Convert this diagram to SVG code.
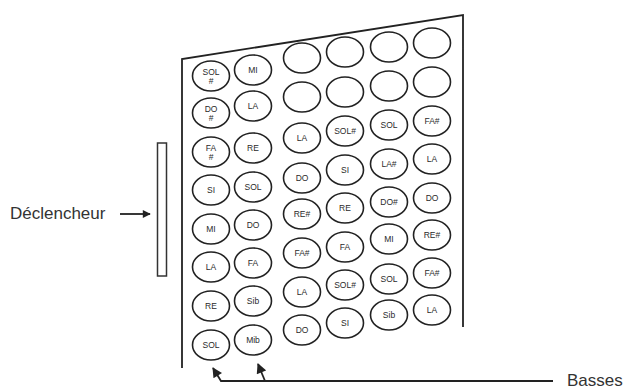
<svg xmlns="http://www.w3.org/2000/svg" width="624" height="389" viewBox="0 0 624 389">
<defs>
<style>
.k{fill:none;stroke:#222;stroke-width:1.6}
.t{font-family:"Liberation Sans",Arial,sans-serif;font-size:8.5px;fill:#2a2a2a;text-anchor:middle}
.lbl{font-family:"Liberation Sans",Arial,sans-serif;font-size:17px;fill:#333}
.ln{fill:none;stroke:#222;stroke-width:1.8}
</style>
<marker id="ah" viewBox="0 0 10 10" refX="9" refY="5" markerWidth="12" markerHeight="8" markerUnits="userSpaceOnUse" orient="auto">
<path d="M0,0 L10,5 L0,10 Z" fill="#222"/>
</marker>
<marker id="ah2" viewBox="0 0 10 10" refX="9" refY="5" markerWidth="13" markerHeight="10" markerUnits="userSpaceOnUse" orient="auto">
<path d="M0,0 L10,5 L0,10 Z" fill="#222"/>
</marker>
</defs>
<rect width="624" height="389" fill="#fff"/>
<g id="frame"><polyline class="ln" points="182,368 182,59 463,15 463,327"/></g>
<g id="declencheur-bar"><rect x="157.5" y="143" width="9" height="133" fill="none" stroke="#333" stroke-width="1.5"/></g>
<g id="declencheur-label"><text class="lbl" x="10" y="219">Déclencheur</text></g>
<g id="basses-label"><text class="lbl" x="567" y="386">Basses</text></g>
<g id="c1r1"><ellipse class="k" cx="211" cy="76" rx="18.5" ry="15"/><text class="t" x="211" y="75">SOL</text><text class="t" x="211" y="84">#</text></g>
<g id="c1r2"><ellipse class="k" cx="211" cy="113" rx="18.5" ry="15"/><text class="t" x="211" y="112">DO</text><text class="t" x="211" y="121">#</text></g>
<g id="c1r3"><ellipse class="k" cx="211" cy="152" rx="18.5" ry="15"/><text class="t" x="211" y="151">FA</text><text class="t" x="211" y="160">#</text></g>
<g id="c1r4"><ellipse class="k" cx="211" cy="190" rx="18.5" ry="15"/><text class="t" x="211" y="193">SI</text></g>
<g id="c1r5"><ellipse class="k" cx="211" cy="229" rx="18.5" ry="15"/><text class="t" x="211" y="232">MI</text></g>
<g id="c1r6"><ellipse class="k" cx="211" cy="267" rx="18.5" ry="15"/><text class="t" x="211" y="270">LA</text></g>
<g id="c1r7"><ellipse class="k" cx="211" cy="306" rx="18.5" ry="15"/><text class="t" x="211" y="309">RE</text></g>
<g id="c1r8"><ellipse class="k" cx="211" cy="345" rx="18.5" ry="15"/><text class="t" x="211" y="348">SOL</text></g>
<g id="c2r1"><ellipse class="k" cx="253" cy="70" rx="18.5" ry="15"/><text class="t" x="253" y="73">MI</text></g>
<g id="c2r2"><ellipse class="k" cx="253" cy="106" rx="18.5" ry="15"/><text class="t" x="253" y="109">LA</text></g>
<g id="c2r3"><ellipse class="k" cx="253" cy="148" rx="18.5" ry="15"/><text class="t" x="253" y="151">RE</text></g>
<g id="c2r4"><ellipse class="k" cx="253" cy="187" rx="18.5" ry="15"/><text class="t" x="253" y="190">SOL</text></g>
<g id="c2r5"><ellipse class="k" cx="253" cy="225" rx="18.5" ry="15"/><text class="t" x="253" y="228">DO</text></g>
<g id="c2r6"><ellipse class="k" cx="253" cy="263" rx="18.5" ry="15"/><text class="t" x="253" y="266">FA</text></g>
<g id="c2r7"><ellipse class="k" cx="253" cy="301" rx="18.5" ry="15"/><text class="t" x="253" y="304">Sib</text></g>
<g id="c2r8"><ellipse class="k" cx="253" cy="340" rx="18.5" ry="15"/><text class="t" x="253" y="343">Mib</text></g>
<g id="c3r1"><ellipse class="k" cx="302" cy="58" rx="18.5" ry="15"/></g>
<g id="c3r2"><ellipse class="k" cx="302" cy="97" rx="18.5" ry="15"/></g>
<g id="c3r3"><ellipse class="k" cx="302" cy="138" rx="18.5" ry="15"/><text class="t" x="302" y="141">LA</text></g>
<g id="c3r4"><ellipse class="k" cx="302" cy="178" rx="18.5" ry="15"/><text class="t" x="302" y="181">DO</text></g>
<g id="c3r5"><ellipse class="k" cx="302" cy="214" rx="18.5" ry="15"/><text class="t" x="302" y="217">RE#</text></g>
<g id="c3r6"><ellipse class="k" cx="302" cy="253" rx="18.5" ry="15"/><text class="t" x="302" y="256">FA#</text></g>
<g id="c3r7"><ellipse class="k" cx="302" cy="292" rx="18.5" ry="15"/><text class="t" x="302" y="295">LA</text></g>
<g id="c3r8"><ellipse class="k" cx="302" cy="330" rx="18.5" ry="15"/><text class="t" x="302" y="333">DO</text></g>
<g id="c4r1"><ellipse class="k" cx="345" cy="52" rx="18.5" ry="15"/></g>
<g id="c4r2"><ellipse class="k" cx="345" cy="92" rx="18.5" ry="15"/></g>
<g id="c4r3"><ellipse class="k" cx="345" cy="131" rx="18.5" ry="15"/><text class="t" x="345" y="134">SOL#</text></g>
<g id="c4r4"><ellipse class="k" cx="345" cy="170" rx="18.5" ry="15"/><text class="t" x="345" y="173">SI</text></g>
<g id="c4r5"><ellipse class="k" cx="345" cy="208" rx="18.5" ry="15"/><text class="t" x="345" y="211">RE</text></g>
<g id="c4r6"><ellipse class="k" cx="345" cy="247" rx="18.5" ry="15"/><text class="t" x="345" y="250">FA</text></g>
<g id="c4r7"><ellipse class="k" cx="345" cy="285" rx="18.5" ry="15"/><text class="t" x="345" y="288">SOL#</text></g>
<g id="c4r8"><ellipse class="k" cx="345" cy="323" rx="18.5" ry="15"/><text class="t" x="345" y="326">SI</text></g>
<g id="c5r1"><ellipse class="k" cx="389" cy="47" rx="18.5" ry="15"/></g>
<g id="c5r2"><ellipse class="k" cx="389" cy="86" rx="18.5" ry="15"/></g>
<g id="c5r3"><ellipse class="k" cx="389" cy="125" rx="18.5" ry="15"/><text class="t" x="389" y="128">SOL</text></g>
<g id="c5r4"><ellipse class="k" cx="389" cy="164" rx="18.5" ry="15"/><text class="t" x="389" y="167">LA#</text></g>
<g id="c5r5"><ellipse class="k" cx="389" cy="202" rx="18.5" ry="15"/><text class="t" x="389" y="205">DO#</text></g>
<g id="c5r6"><ellipse class="k" cx="389" cy="239" rx="18.5" ry="15"/><text class="t" x="389" y="242">MI</text></g>
<g id="c5r7"><ellipse class="k" cx="389" cy="279" rx="18.5" ry="15"/><text class="t" x="389" y="282">SOL</text></g>
<g id="c5r8"><ellipse class="k" cx="389" cy="315" rx="18.5" ry="15"/><text class="t" x="389" y="318">Sib</text></g>
<g id="c6r1"><ellipse class="k" cx="432" cy="43" rx="18.5" ry="15"/></g>
<g id="c6r2"><ellipse class="k" cx="432" cy="82" rx="18.5" ry="15"/></g>
<g id="c6r3"><ellipse class="k" cx="432" cy="121" rx="18.5" ry="15"/><text class="t" x="432" y="124">FA#</text></g>
<g id="c6r4"><ellipse class="k" cx="432" cy="159" rx="18.5" ry="15"/><text class="t" x="432" y="162">LA</text></g>
<g id="c6r5"><ellipse class="k" cx="432" cy="198" rx="18.5" ry="15"/><text class="t" x="432" y="201">DO</text></g>
<g id="c6r6"><ellipse class="k" cx="432" cy="235" rx="18.5" ry="15"/><text class="t" x="432" y="238">RE#</text></g>
<g id="c6r7"><ellipse class="k" cx="432" cy="273" rx="18.5" ry="15"/><text class="t" x="432" y="276">FA#</text></g>
<g id="c6r8"><ellipse class="k" cx="432" cy="310" rx="18.5" ry="15"/><text class="t" x="432" y="313">LA</text></g>
<g id="connectors">
<line class="ln" x1="120" y1="214" x2="150" y2="214" marker-end="url(#ah)"/>
<polyline class="ln" points="553,381 221,381 213,368" marker-end="url(#ah2)"/>
<line class="ln" x1="265" y1="381" x2="258" y2="364" marker-end="url(#ah2)"/>
</g>
</svg>
